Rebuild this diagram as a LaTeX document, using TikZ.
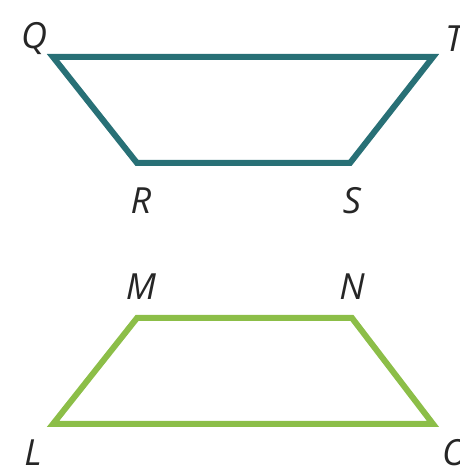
\documentclass[tikz,border=0pt]{standalone}
\usepackage{fontspec}
\setmainfont{Open Sans}
\definecolor{tealc}{RGB}{40,112,118}
\definecolor{greenc}{RGB}{140,190,72}
\begin{document}
\begin{tikzpicture}[x=1pt,y=1pt,
  lbl/.style={font=\fontsize{36}{40}\selectfont\itshape, inner sep=0pt, text=black!85},
  edge/.style={line width=6pt, line join=miter}]
\useasboundingbox (0,0) rectangle (459,476);
% top trapezoid
\coordinate (Q) at (53,419);
\coordinate (T) at (433,419);
\coordinate (S) at (350,313);
\coordinate (R) at (137,313);
\draw[edge, draw=tealc] (Q) -- (T) -- (S) -- (R) -- cycle;
\node[lbl] (lQ) at (34,437) {Q};
\node[lbl] (lT) at (454,437) {T};
\node[lbl] (lR) at (141,275) {R};
\node[lbl] (lS) at (352,275) {S};
% bottom trapezoid
\coordinate (M) at (137,158);
\coordinate (N) at (352,158);
\coordinate (O) at (433,52);
\coordinate (L) at (53,52);
\draw[edge, draw=greenc] (M) -- (N) -- (O) -- (L) -- cycle;
\node[lbl] (lM) at (141,189) {M};
\node[lbl] (lN) at (352,189) {N};
\node[lbl] (lL) at (33,23) {L};
\node[lbl] (lO) at (455,23) {O};
\end{tikzpicture}
\end{document}
